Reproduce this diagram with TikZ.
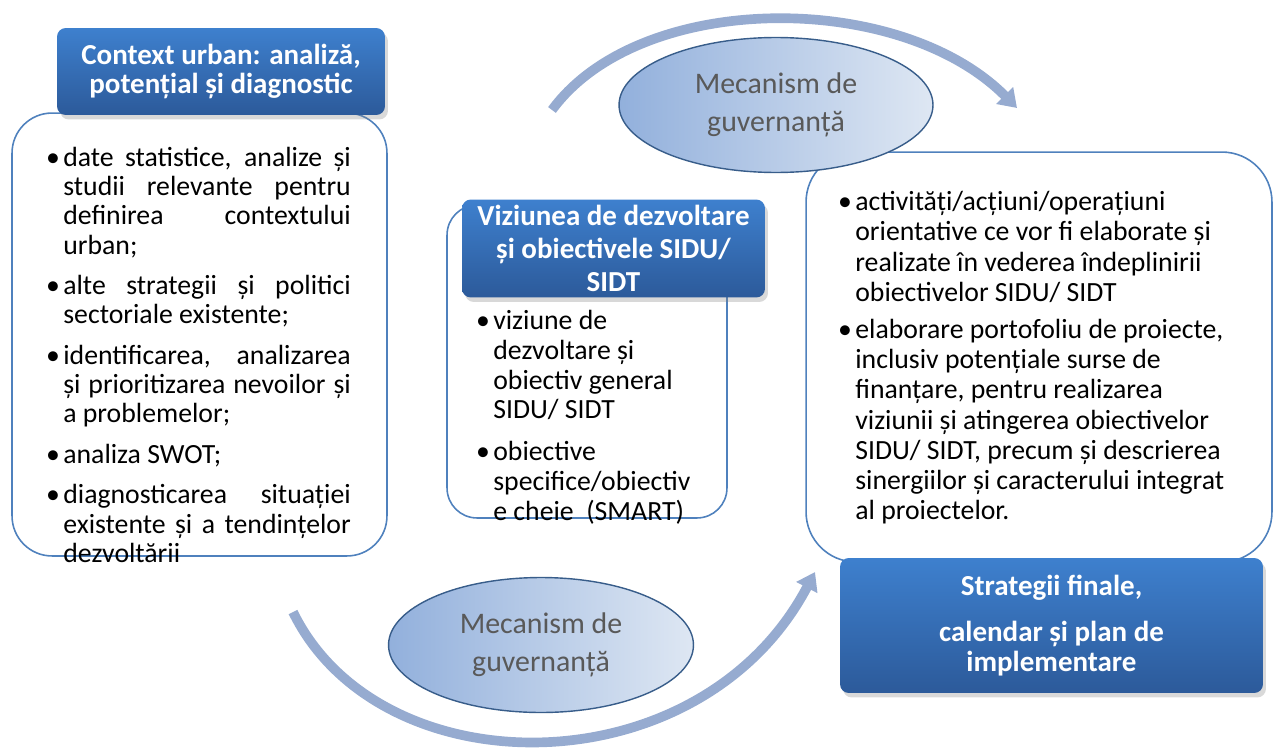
\documentclass[tikz,border=0pt]{standalone}
\usepackage{fontspec}
\setmainfont{Carlito}
\usetikzlibrary{shapes.geometric,shadows,arrows.meta}

\definecolor{boxline}{RGB}{79,129,189}
\definecolor{headtop}{RGB}{62,128,206}
\definecolor{headbot}{RGB}{44,90,154}
\definecolor{ovalleft}{RGB}{146,176,220}
\definecolor{ovalright}{RGB}{222,231,243}
\definecolor{ovalline}{RGB}{56,93,138}
\definecolor{arrowblue}{RGB}{150,171,208}
\definecolor{govtext}{RGB}{89,89,89}
\setlength{\parindent}{0pt}
\newcommand{\bul}{\leavevmode\llap{\textbullet\hspace{2pt}}}

\tikzset{
  listbox/.style={draw=boxline, line width=0.9pt, fill=white},
  headbox/.style={rounded corners=5pt, top color=headtop, bottom color=headbot,
    text=white, font=\fontsize{16.5}{17}\selectfont\bfseries, align=center,
    drop shadow={opacity=0.3, shadow xshift=0.6mm, shadow yshift=-0.9mm}},
  govoval/.style={ellipse, draw=ovalline, line width=0.8pt, left color=ovalleft,
    right color=ovalright, text=govtext, font=\fontsize{17}{21.5}\selectfont,
    align=center, inner sep=0pt},
  listtext/.style={anchor=north west, inner sep=0pt, font=\fontsize{15.8}{16.6}\selectfont},
  cyclearrow/.style={line width=5.5pt, draw=arrowblue, -{Triangle[length=10pt,width=13pt]}}
}

\begin{document}
\begin{tikzpicture}[x=0.02cm, y=-0.02cm]
  \useasboundingbox (0,0) rectangle (1277,747);

  % curved arrows of the cycle
  \coordinate (topstart) at (552,110);
  \coordinate (topend) at (1017,108);
  \coordinate (botstart) at (293,612);
  \coordinate (botend) at (815,572);
  \draw[cyclearrow] (topstart) .. controls (640,-10) and (900,-10) .. (topend);
  \draw[cyclearrow] (botstart) .. controls (380,790) and (700,790) .. (botend);

  % context
  \node[listbox, rounded corners=0.8cm, minimum width=7.5cm, minimum height=8.86cm] (ctxbox) at (199.5,334.5) {};
  \node[headbox, minimum width=6.56cm, minimum height=1.74cm] (ctxhead) at (221,71.5)
    {Context urban: analiză,\\potențial și diagnostic};
  \node[listtext, text width=5.75cm, align=justify] (ctxlist) at (63,147) {%
    \bul date statistice, analize și\linebreak studii relevante pentru\linebreak
    definirea contextului\linebreak urban;\\[6.5pt]
    \bul alte strategii și politici\linebreak sectoriale existente;\\[6.5pt]
    \bul identificarea, analizarea\linebreak și prioritizarea nevoilor și\linebreak
    a problemelor;\\[6.5pt]
    \bul analiza SWOT;\\[6.5pt]
    \bul diagnosticarea situației\linebreak existente și a tendințelor\linebreak dezvoltării};

  % vision
  \node[listbox, rounded corners=0.6cm, minimum width=5.6cm, minimum height=6.26cm] (vizbox) at (587,361.5) {};
  \node[headbox, font=\fontsize{16.5}{18.7}\selectfont\bfseries, minimum width=6.06cm, minimum height=1.86cm] (vizhead) at (613.5,248.5)
    {Viziunea de dezvoltare\\și obiectivele SIDU/\\SIDT};
  \node[listtext, font=\fontsize{15.8}{16.9}\selectfont, text width=5cm, align=flush left] (vizlist) at (493,310) {%
    \bul viziune de\\dezvoltare și\\obiectiv general\\SIDU/ SIDT\\[7pt]
    \bul obiective\\specifice/obiectiv\\e cheie~ (SMART)};

  % implementation
  \node[listbox, rounded corners=1cm, minimum width=9.32cm, minimum height=8.2cm] (implbox) at (1039,357) {};
  \node[headbox, minimum width=8.46cm, minimum height=2.7cm] (implhead) at (1051.5,625.5)
    {Strategii finale,\\[9pt]calendar și plan de\\implementare};
  \node[listtext, font=\fontsize{15.8}{17.2}\selectfont, text width=8cm, align=flush left] (impllist) at (855,191) {%
    \bul activități/acțiuni/operațiuni\\orientative ce vor fi elaborate și\\
    realizate în vederea îndeplinirii\\obiectivelor SIDU/ SIDT\\[4pt]
    \bul elaborare portofoliu de proiecte,\\inclusiv potențiale surse de\\
    finanțare, pentru realizarea\\viziunii și atingerea obiectivelor\\
    SIDU/ SIDT, precum și descrierea\\sinergiilor și caracterului integrat\\
    al proiectelor.};

  % governance
  \node[govoval, minimum width=6.28cm, minimum height=2.7cm] (govtop) at (776,105)
    {Mecanism de\\guvernanță};
  \node[govoval, minimum width=6.1cm, minimum height=2.7cm] (govbot) at (541,645)
    {Mecanism de\\guvernanță};
\end{tikzpicture}
\end{document}
